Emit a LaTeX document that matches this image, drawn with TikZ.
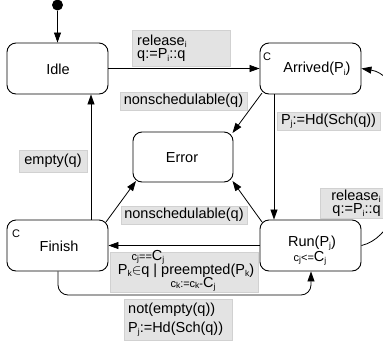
\documentclass[tikz,border=0pt]{standalone}
\usepackage{fontspec}
\setmainfont{Liberation Sans}
\usetikzlibrary{arrows.meta}
\newcommand\sbs[1]{\raisebox{-0.3ex}{\fontsize{8.5}{9}\selectfont #1}}
\newcommand\smalltxt{\fontsize{11}{12}\selectfont}
\begin{document}
\begin{tikzpicture}[x=1pt,y=-1pt,
  every node/.style={font=\fontsize{14.5}{13.5}\selectfont},
  statebox/.style={draw, line width=0.9pt, rounded corners=9pt, minimum width=101pt, minimum height=51pt, inner sep=0pt},
  lbl/.style={fill=black!11, draw=black!18, line width=0.4pt, inner sep=0pt},
  txt/.style={inner sep=0pt},
  conn/.style={line width=0.8pt, -{Triangle[length=10pt,width=7pt]}},
  cmark/.style={font=\fontsize{11}{11}\selectfont, inner sep=0pt, anchor=base west}
]
\useasboundingbox (0,0) rectangle (383,346);

% states
\node[circle, fill, inner sep=0pt, minimum size=11pt] (init) at (57.5,5) {};
\node[statebox] (idle) at (57.5,68.5) {};
\node[txt] (idlet) at (58,69) {Idle};
\node[statebox] (arr) at (310.5,68.5) {};
\node[txt] (arrt) at (317,69) {Arrived(P\sbs{i})};
\node[cmark] (arrc) at (263,60) {C};
\node[statebox, minimum width=100pt, minimum height=50pt] (err) at (183,157) {};
\node[txt] (errt) at (182,158) {Error};
\node[statebox] (fin) at (57.5,245.5) {};
\node[txt] (fint) at (59,246.5) {Finish};
\node[cmark] (finc) at (12,237) {C};
\node[statebox] (run) at (310.5,245.5) {};
\node[txt] (runt) at (312,243) {Run(P\sbs{j})};
\node[txt] (runc) at (310,258) {{\smalltxt c\sbs{j}<=}C\sbs{j}};

% helper coordinates
\coordinate (avx) at (274,0);
\coordinate (fvx) at (91,0);
\coordinate (fbx) at (58,0);
\coordinate (rbx) at (311,0);
\coordinate (a1) at (262,93);
\coordinate (e1) at (232.5,133);
\coordinate (r1) at (262,222);
\coordinate (e2) at (232.5,181);
\coordinate (f1) at (106,222);
\coordinate (e3) at (136,181);
\coordinate (bl) at (58,295);
\coordinate (br) at (311,295);

% connectors
\draw[conn] (init) -- (init |- idle.north);
\draw[conn] (idle.east) -- (arr.west);
\draw[conn] (a1) -- (e1);
\draw[conn] (arr.south -| avx) -- (run.north -| avx);
\draw[conn] (r1) -- (e2);
\draw[conn] (f1) -- (e3);
\draw[conn] (fin.north -| fvx) -- (idle.south -| fvx);
\draw[conn] (run.west) -- (fin.east);
\draw[conn, rounded corners=10pt] (fin.south -| fbx) -- (bl) -- (br) -- (run.south -| rbx);
\draw[conn] (run.east) .. controls (420,232) and (420,78) .. (arr.east);

% labels
\node[lbl, anchor=north west, minimum width=98pt, minimum height=36pt, text width=88pt, inner xsep=5pt, align=left] (l1) at (132,30) {release\sbs{i}\\q:=P\sbs{i}::q};
\node[lbl, minimum width=127pt, minimum height=18pt] (l2) at (183.5,101) {nonschedulable(q)};
\node[lbl, minimum width=103pt, minimum height=18pt] (l3) at (328.5,121) {P\sbs{j}:=Hd(Sch(q))};
\node[lbl, minimum width=68pt, minimum height=22pt] (l4) at (53,161) {empty(q)};
\node[lbl, minimum width=126pt, minimum height=18pt] (l5) at (184,215) {nonschedulable(q)};
\node[lbl, anchor=north west, minimum width=66pt, minimum height=30pt, text width=55pt, inner xsep=3pt, align=right] (l6) at (320,188) {release\sbs{i}\\q:=P\sbs{i}::q};
\node[lbl, minimum width=148pt, minimum height=40pt] (l7) at (184,272) {};
\node[txt] (l7a) at (148,257) {{\smalltxt c\sbs{j}==}C\sbs{j}};
\node[txt] (l7b) at (186,270.5) {P\sbs{k}$\in$q | preempted(P\sbs{k})};
\node[txt] (l7c) at (193,284) {{\smalltxt c\sbs{k}:=c\sbs{k}-}C\sbs{j}};
\node[lbl, anchor=north west, minimum width=108pt, minimum height=41pt, text width=100pt, inner xsep=4pt, align=left] (l8) at (124,299) {not(empty(q))\\[4pt]P\sbs{j}:=Hd(Sch(q))};
\end{tikzpicture}
\end{document}
